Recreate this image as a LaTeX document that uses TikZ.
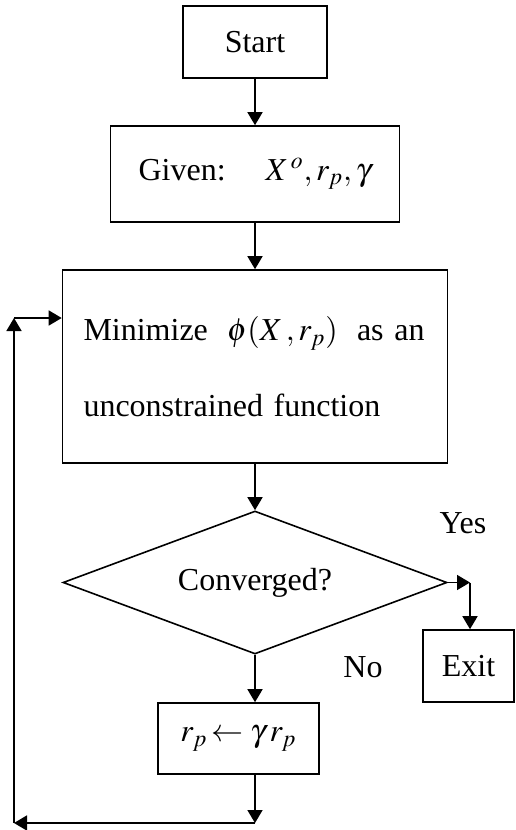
\documentclass[tikz,border=0pt]{standalone}
\usepackage{mathptmx}
\usepackage[no-math]{fontspec}
\setmainfont{Liberation Serif}
\usetikzlibrary{shapes.geometric,arrows.meta}
\tikzset{
  box/.style={draw, line width=0.8pt, inner sep=0pt, align=center},
  decision/.style={draw, diamond, line width=0.8pt, inner sep=0pt, shape aspect=2.69,
                   minimum width=192pt, minimum height=71.5pt},
  arr/.style={line width=0.8pt, -{Triangle[length=6.5pt,width=7.5pt]}},
  lab/.style={inner sep=0pt}
}
\begin{document}
\begin{tikzpicture}[x=0.5pt,y=-0.5pt,font=\fontsize{16}{38}\selectfont]
\useasboundingbox (0,0) rectangle (515,830);

% boxes
\node[box,minimum width=72pt,minimum height=36pt] (start) at (255,42) {Start};
\node[box,minimum width=144.5pt,minimum height=48pt] (given) at (255,174)
  {Given:\quad\ $X^{\,o},r_p,\gamma$};
\node[box,minimum width=192.5pt,minimum height=96.5pt,text width=171.5pt,align=left] (minim) at (255,366.5)
  {Minimize\hspace{0.6em}$\phi(X\,,r_p)$\hspace{0.6em}as an\\unconstrained function};
\node[decision] (conv) at (255,582.5) {Converged?};
\node[box,minimum width=80.5pt,minimum height=35.5pt] (upd) at (238.5,738.5)
  {$r_p\!\leftarrow\gamma\,r_p$};
\node[box,minimum width=45.5pt,minimum height=36pt] (exit) at (468.5,666) {Exit};

% labels
\node[lab] (yes) at (463,523) {Yes};
\node[lab] (no) at (363,667) {No};

% main flow
\draw[arr] (start.south) -- (given.north);
\draw[arr] (given.south) -- (minim.north);
\draw[arr] (minim.south) -- (conv.north);
\draw[arr] (conv.south) -- (conv.south |- upd.north);

% yes branch
\coordinate (yesbend) at (470,582.5);
\draw[arr] (conv.east) -- (yesbend);
\draw[arr] (yesbend) -- (yesbend |- exit.north);

% loop back
\coordinate (loopa) at (255,823);
\coordinate (loopb) at (14,823);
\coordinate (loopc) at (14,318);
\draw[arr] (upd.south -| conv.south) -- (loopa);
\draw[arr] (loopa) -- (loopb);
\draw[arr] (loopb) -- (loopc);
\draw[arr] (loopc) -- (minim.west |- loopc);
\end{tikzpicture}
\end{document}
